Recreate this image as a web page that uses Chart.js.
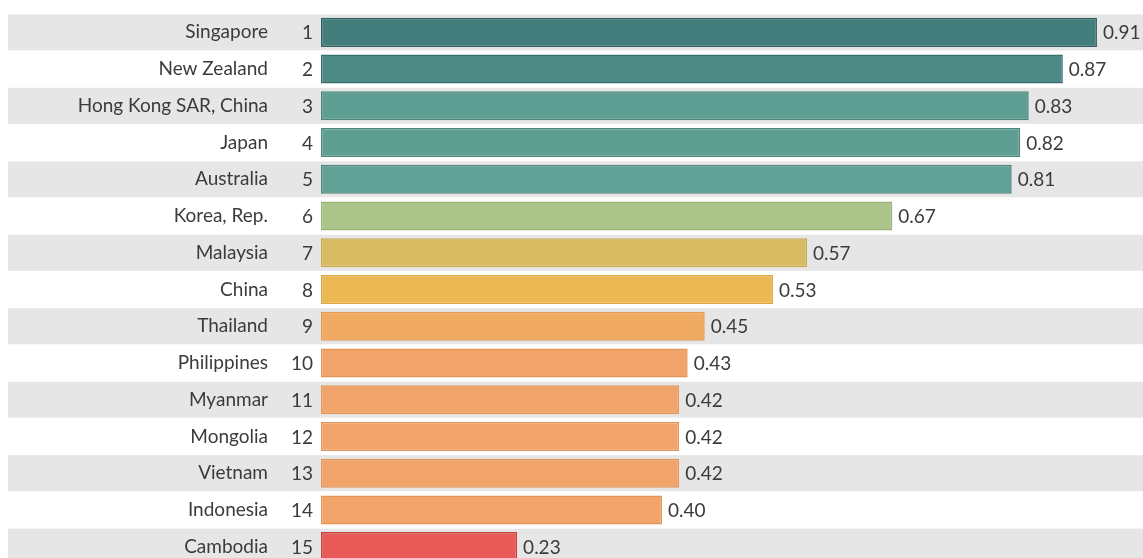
<!DOCTYPE html>
<html>
<head>
<meta charset="utf-8">
<script src="https://cdn.jsdelivr.net/npm/chart.js@4.4.1/dist/chart.umd.min.js"></script>
<style>
  html, body { margin: 0; padding: 0; background: #ffffff; overflow: hidden; }
  canvas { display: block; position: absolute; left: 0; top: 0; }
</style>
</head>
<body>
<canvas id="chart" width="1143" height="566"></canvas>
<script>
// Economies, ranked by score
const countries = [
  'Singapore', 'New Zealand', 'Hong Kong SAR, China', 'Japan', 'Australia',
  'Korea, Rep.', 'Malaysia', 'China', 'Thailand', 'Philippines',
  'Myanmar', 'Mongolia', 'Vietnam', 'Indonesia', 'Cambodia'
];
const ranks = [1, 2, 3, 4, 5, 6, 7, 8, 9, 10, 11, 12, 13, 14, 15];
const scores = [0.91, 0.87, 0.83, 0.82, 0.81, 0.67, 0.57, 0.53, 0.45, 0.43, 0.42, 0.42, 0.42, 0.40, 0.23];

// Colour ramp from teal (high) through yellow to red (low)
const fillColors = [
  '#437e7c', '#4d8a85', '#5f9e93', '#5f9f92', '#62a195',
  '#abc48a', '#d8bc63', '#ebb853', '#f1aa62', '#f0a46a',
  '#f0a46a', '#f0a46a', '#f0a46a', '#f0a46a', '#e85a57'
];
const edgeColors = [
  '#2c5f5d', '#376e69', '#4b857b', '#4b857b', '#4d877c',
  '#97b375', '#c9ac50', '#dba640', '#e3994f', '#e39457',
  '#e39457', '#e39457', '#e39457', '#e39457', '#c8403d'
];

const textColor = '#3b3b3e';
const fontFamily = 'Lato, "Open Sans", sans-serif';
const fontSize = 19;

// Alternating grey row bands behind the bars
const rowBands = {
  id: 'rowBands',
  beforeDraw(chart) {
    const { ctx, scales: { y } } = chart;
    ctx.save();
    ctx.fillStyle = '#e6e6e6';
    countries.forEach((c, i) => {
      if (i % 2 !== 0) return;
      const cy = y.getPixelForValue(i);
      ctx.fillRect(8, cy - 18, chart.width - 8, 36);
    });
    ctx.restore();
  }
};

// Rank numbers beside the names and score labels at the bar ends
const rowText = {
  id: 'rowText',
  afterDatasetsDraw(chart) {
    const { ctx, chartArea, scales: { x, y } } = chart;
    ctx.save();
    ctx.font = fontSize + 'px ' + fontFamily;
    ctx.fillStyle = textColor;
    ctx.textBaseline = 'middle';
    ranks.forEach((r, i) => {
      ctx.textAlign = 'right';
      ctx.fillText(String(r), chartArea.left - 8, y.getPixelForValue(i) + 1);
    });
    scores.forEach((v, i) => {
      ctx.textAlign = 'left';
      ctx.fillText(v.toFixed(2), x.getPixelForValue(v) + 6, y.getPixelForValue(i) + 1);
    });
    ctx.restore();
  }
};

new Chart(document.getElementById('chart'), {
  type: 'bar',
  data: {
    labels: countries,
    datasets: [{
      data: scores,
      backgroundColor: fillColors,
      borderColor: edgeColors,
      borderWidth: 1.5,
      borderSkipped: false,
      barPercentage: 0.79,
      categoryPercentage: 1.0
    }]
  },
  options: {
    indexAxis: 'y',
    responsive: false,
    maintainAspectRatio: false,
    devicePixelRatio: 1,
    animation: false,
    layout: { padding: { top: 14, bottom: 1, left: 0, right: 0 } },
    plugins: {
      legend: { display: false },
      tooltip: { enabled: false },
      title: { display: false }
    },
    scales: {
      x: {
        min: 0,
        max: 0.964,
        display: false
      },
      y: {
        afterFit(scale) {
          scale.width = 321;
          // the label gap is horizontal only; keep rows flush with the plot area
          scale.paddingTop = 0;
          scale.paddingBottom = 0;
        },
        border: { display: false },
        grid: { display: false, drawTicks: false },
        ticks: {
          padding: 53,
          color: textColor,
          font: { family: fontFamily, size: fontSize }
        }
      }
    }
  },
  plugins: [rowBands, rowText]
});
</script>
</body>
</html>
